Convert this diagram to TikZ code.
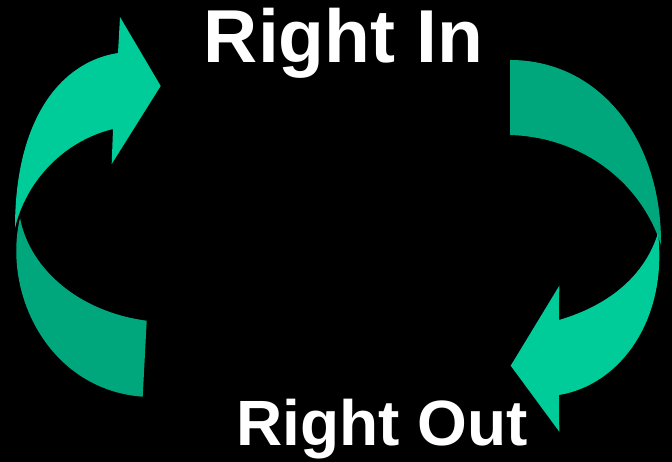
\documentclass[tikz,border=0pt]{standalone}
\usepackage{fontspec}
\setmainfont{Liberation Sans}
\definecolor{arrowlight}{RGB}{0, 204, 153}
\definecolor{arrowdark}{RGB}{0, 166, 124}
\usetikzlibrary{positioning}

\begin{document}
\begin{tikzpicture}[x=1pt, y=-1pt,
    bigarrow/.style={fill=arrowlight, draw=none},
    bigarc/.style={fill=arrowdark, draw=none},
    label/.style={text=white, font=\bfseries, inner sep=0pt, anchor=base}]
  % black page
  \fill[black] (0,0) rectangle (672,462);
  \useasboundingbox (0,0) rectangle (672,462);

  % left side: lower arc, then upper arrow
  \fill[bigarc] (20,218) .. controls (2,295) and (50,390) .. (142.7,396.7)
    -- (146.7,320.7) .. controls (80,312) and (30,270) .. (20,218) -- cycle;
  \fill[bigarrow] (15,228) .. controls (15,120) and (60,62) .. (118,53)
    -- (120,17) -- (160.7,86) -- (111.7,164) -- (113,129)
    .. controls (60,142) and (25,185) .. (15,228) -- cycle;

  % right side: upper arc, then lower arrow
  \fill[bigarc] (510,60) .. controls (600,60) and (662,140) .. (661,245)
    .. controls (640,180) and (580,137) .. (510,135) -- cycle;
  \fill[bigarrow] (658,233) .. controls (668,320) and (620,385) .. (559,395)
    -- (559.3,431.7) -- (510.7,365.7) -- (559.3,285.7) -- (559,320)
    .. controls (610,305) and (645,275) .. (658,233) -- cycle;

  % texts
  \node[label, font=\bfseries\fontsize{75}{75}\selectfont] (rightin) at (343.5,63) {Right In};
  \node[label, font=\bfseries\fontsize{64}{64}\selectfont] (rightout) at (382,445) {Right Out};
\end{tikzpicture}
\end{document}
